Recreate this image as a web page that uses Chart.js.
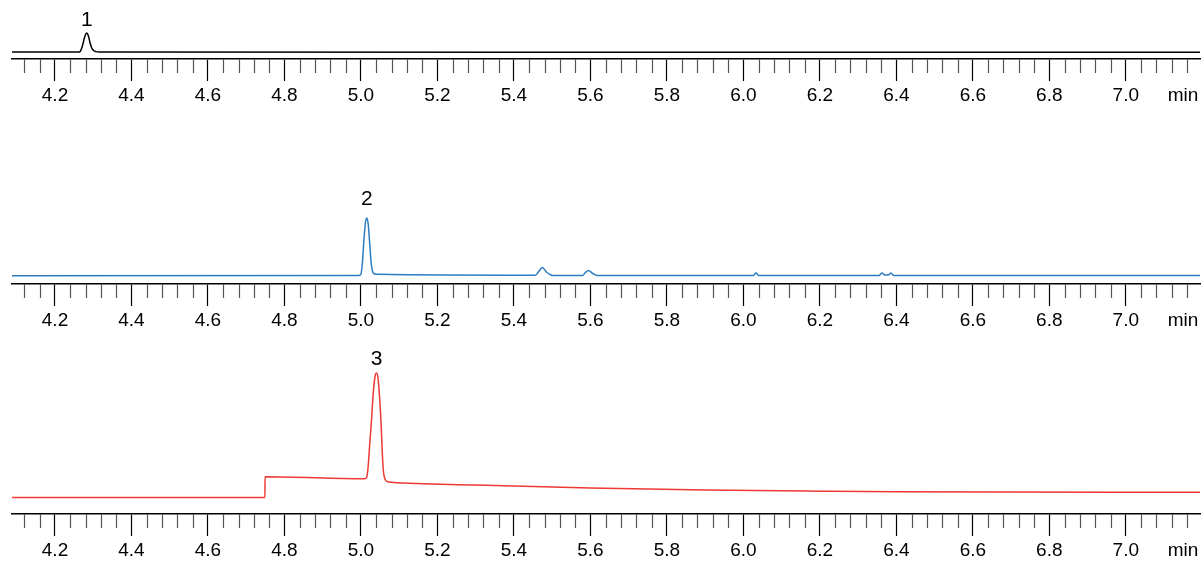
<!DOCTYPE html>
<html>
<head>
<meta charset="utf-8">
<script src="https://cdn.jsdelivr.net/npm/chart.js@4.4.1/dist/chart.umd.min.js"></script>
<style>
  body { margin: 0; background: #fff; width: 1204px; height: 563px; overflow: hidden; position: relative; }
  canvas { position: absolute; left: 0; }
</style>
</head>
<body>
<canvas id="trace1" width="1204" height="260" style="top:-151px"></canvas>
<canvas id="trace2" width="1204" height="260" style="top:74px"></canvas>
<canvas id="trace3" width="1204" height="260" style="top:304px"></canvas>
<script>
// --- data ---
const timeMin = 4.0876;
const timeMax = 7.194;
const tickValues = [4.2, 4.4, 4.6, 4.8, 5.0, 5.2, 5.4, 5.6, 5.8, 6.0, 6.2, 6.4, 6.6, 6.8, 7.0];
const tickLabels = ['4.2', '4.4', '4.6', '4.8', '5.0', '5.2', '5.4', '5.6', '5.8', '6.0', '6.2', '6.4', '6.6', '6.8', '7.0'];
const unitLabel = 'min';
const peakLabels = ['1', '2', '3'];

// trace 1 (black)
const time1 =   [4.0876, 4.262, 4.266, 4.270, 4.274, 4.278, 4.283, 4.287, 4.2915, 4.296, 4.301, 4.307, 4.315, 7.194];
const signal1 = [7.0,    7.0,   7.6,   11,    16.5,  22.5,  26,    23.5,  16.5,   11,    8.5,   7.4,   7.0,   6.8];

// trace 2 (blue)
const time2 =   [4.0876, 4.995, 5.000, 5.004, 5.008, 5.012, 5.0155, 5.019, 5.023, 5.027, 5.031, 5.036, 5.045,
                 5.450, 5.456, 5.465, 5.474, 5.485, 5.497, 5.503, 5.579, 5.587, 5.595, 5.606, 5.617,
                 6.026, 6.033, 6.040, 6.355, 6.362, 6.370, 6.379, 6.386, 6.393, 7.194];
const signal2 = [8.3,    8.6,   10,    22,    45,    62,    66,     60,    40,    20,    12,    10,    9.7,
                 8.8,    8.8,   12.5,  16.6,  12,    9,     8.4,   8.4,   11.5,  13.6,  10.5,  8.6,
                 8.6,    10.9,  8.6,   8.6,   11,    9,     9,     11,    8.6,   8.6];

// trace 3 (red)
const time3 =   [4.0876, 4.749, 4.7492, 5.010, 5.015, 5.019, 5.023, 5.027, 5.032, 5.037, 5.041, 5.045, 5.049,
                 5.053, 5.056, 5.059, 5.064, 5.070, 5.080, 5.300, 5.600, 5.900, 6.200, 6.400, 7.194];
const signal3 = [16.5,   16.5,  37.3,   35.3,  36.5,  48,    70,    90,    120,   138,   141,   135,   115,
                 88,     60,    42,    34,    32.3,  31.8,  29,    26,    24,    22.8,  22.2,  21.8];

const fontFamily = '"Liberation Sans", Arial, sans-serif';

// --- extra axis bits: minor ticks, unit label, peak number ---
const axisExtras = {
  id: 'axisExtras',
  afterDraw(chart, args, opts) {
    const ctx = chart.ctx;
    const xs = chart.scales.x;
    ctx.save();
    ctx.strokeStyle = '#555';
    ctx.lineWidth = 1.2;
    for (let k = Math.ceil(timeMin / 0.04); k * 0.04 <= timeMax; k++) {
      if (k % 5 === 0) continue;
      const px = Math.round(xs.getPixelForValue(k * 0.04)) + 0.5;
      ctx.beginPath();
      ctx.moveTo(px, xs.top);
      ctx.lineTo(px, xs.top + 14);
      ctx.stroke();
    }
    ctx.fillStyle = '#000';
    ctx.font = '19px ' + fontFamily;
    ctx.textAlign = 'center';
    ctx.textBaseline = 'middle';
    ctx.fillText(unitLabel, 1183, xs.top + 22 + 3 + 11.4);

    // number above the highest point of the trace
    const pts = chart.data.datasets[0].data;
    let iMax = 0;
    pts.forEach((p, i) => { if (p.y > pts[iMax].y) iMax = i; });
    const el = chart.getDatasetMeta(0).data[iMax];
    ctx.font = '21px ' + fontFamily;
    ctx.textBaseline = 'alphabetic';
    ctx.fillText(opts.label, el.x, el.y - opts.gap);
    ctx.restore();
  }
};

function makePanel(id, times, signal, color, label, gap) {
  return new Chart(document.getElementById(id), {
    type: 'line',
    data: {
      datasets: [{
        data: times.map((t, i) => ({ x: t, y: signal[i] })),
        borderColor: color,
        borderWidth: 1.5,
        pointRadius: 0,
        fill: false,
        cubicInterpolationMode: 'monotone'
      }]
    },
    options: {
      responsive: false,
      animation: false,
      events: [],
      layout: { padding: { left: 12, right: 4, top: 0, bottom: 0 } },
      plugins: {
        legend: { display: false },
        tooltip: { enabled: false },
        axisExtras: { label: label, gap: gap }
      },
      scales: {
        x: {
          type: 'linear',
          min: timeMin,
          max: timeMax,
          afterBuildTicks: s => { s.ticks = tickValues.map(v => ({ value: v })); },
          afterFit: s => { s.height = 50; },
          border: { display: true, color: '#000', width: 1.6 },
          grid: { drawOnChartArea: false, drawTicks: true, tickLength: 22, tickColor: '#000', tickWidth: 1.2 },
          ticks: {
            autoSkip: false,
            maxRotation: 0,
            padding: 3,
            color: '#000',
            font: { family: fontFamily, size: 19 },
            callback: (v, i) => tickLabels[i]
          }
        },
        y: { display: false, min: 0, max: 210 }
      }
    },
    plugins: [axisExtras]
  });
}

makePanel('trace1', time1, signal1, '#000000', peakLabels[0], 7);
makePanel('trace2', time2, signal2, '#2d7cc1', peakLabels[1], 13);
makePanel('trace3', time3, signal3, '#ee3a32', peakLabels[2], 8);
</script>
</body>
</html>
